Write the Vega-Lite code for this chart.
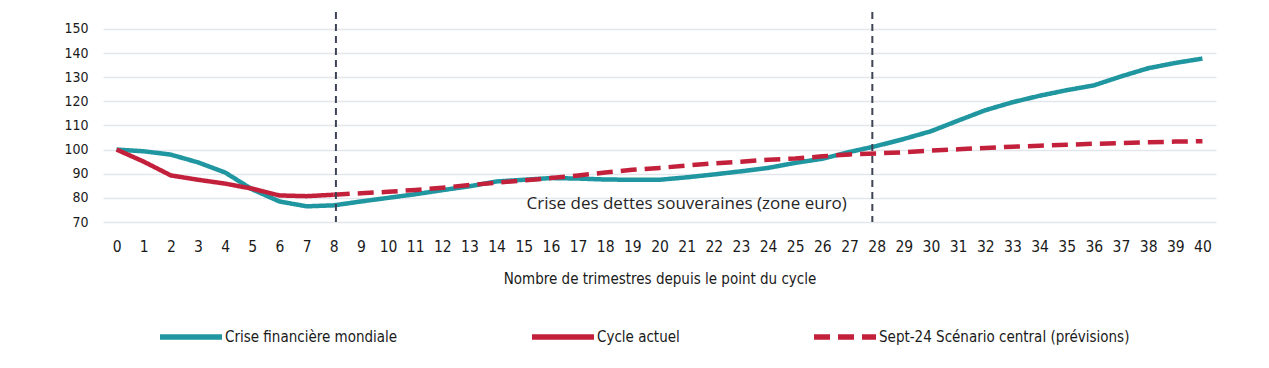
{
  "$schema": "https://vega.github.io/schema/vega-lite/v6.json",
  "width": 1113,
  "height": 210,
  "autosize": "none",
  "padding": {"left": 103, "top": 12, "right": 53, "bottom": 146},
  "background": "white",
  "datasets": {
    "series": [
      {"t": 0, "v": 100, "s": "Crise financière mondiale"},
      {"t": 1, "v": 99.3, "s": "Crise financière mondiale"},
      {"t": 2, "v": 97.9, "s": "Crise financière mondiale"},
      {"t": 3, "v": 94.7, "s": "Crise financière mondiale"},
      {"t": 4, "v": 90.5, "s": "Crise financière mondiale"},
      {"t": 5, "v": 83.5, "s": "Crise financière mondiale"},
      {"t": 6, "v": 78.5, "s": "Crise financière mondiale"},
      {"t": 7, "v": 76.5, "s": "Crise financière mondiale"},
      {"t": 8, "v": 76.9, "s": "Crise financière mondiale"},
      {"t": 9, "v": 78.5, "s": "Crise financière mondiale"},
      {"t": 10, "v": 80.0, "s": "Crise financière mondiale"},
      {"t": 11, "v": 81.5, "s": "Crise financière mondiale"},
      {"t": 12, "v": 83.2, "s": "Crise financière mondiale"},
      {"t": 13, "v": 84.8, "s": "Crise financière mondiale"},
      {"t": 14, "v": 86.8, "s": "Crise financière mondiale"},
      {"t": 15, "v": 87.5, "s": "Crise financière mondiale"},
      {"t": 16, "v": 88.2, "s": "Crise financière mondiale"},
      {"t": 17, "v": 88.0, "s": "Crise financière mondiale"},
      {"t": 18, "v": 87.6, "s": "Crise financière mondiale"},
      {"t": 19, "v": 87.5, "s": "Crise financière mondiale"},
      {"t": 20, "v": 87.5, "s": "Crise financière mondiale"},
      {"t": 21, "v": 88.5, "s": "Crise financière mondiale"},
      {"t": 22, "v": 89.7, "s": "Crise financière mondiale"},
      {"t": 23, "v": 91.0, "s": "Crise financière mondiale"},
      {"t": 24, "v": 92.4, "s": "Crise financière mondiale"},
      {"t": 25, "v": 94.5, "s": "Crise financière mondiale"},
      {"t": 26, "v": 96.2, "s": "Crise financière mondiale"},
      {"t": 27, "v": 99.0, "s": "Crise financière mondiale"},
      {"t": 28, "v": 101.5, "s": "Crise financière mondiale"},
      {"t": 29, "v": 104.4, "s": "Crise financière mondiale"},
      {"t": 30, "v": 107.6, "s": "Crise financière mondiale"},
      {"t": 31, "v": 112.0, "s": "Crise financière mondiale"},
      {"t": 32, "v": 116.3, "s": "Crise financière mondiale"},
      {"t": 33, "v": 119.6, "s": "Crise financière mondiale"},
      {"t": 34, "v": 122.3, "s": "Crise financière mondiale"},
      {"t": 35, "v": 124.6, "s": "Crise financière mondiale"},
      {"t": 36, "v": 126.6, "s": "Crise financière mondiale"},
      {"t": 37, "v": 130.3, "s": "Crise financière mondiale"},
      {"t": 38, "v": 133.7, "s": "Crise financière mondiale"},
      {"t": 39, "v": 135.9, "s": "Crise financière mondiale"},
      {"t": 40, "v": 137.7, "s": "Crise financière mondiale"},
      {"t": 0, "v": 100, "s": "Cycle actuel"},
      {"t": 1, "v": 95.0, "s": "Cycle actuel"},
      {"t": 2, "v": 89.3, "s": "Cycle actuel"},
      {"t": 3, "v": 87.5, "s": "Cycle actuel"},
      {"t": 4, "v": 85.9, "s": "Cycle actuel"},
      {"t": 5, "v": 83.8, "s": "Cycle actuel"},
      {"t": 6, "v": 81.0, "s": "Cycle actuel"},
      {"t": 7, "v": 80.7, "s": "Cycle actuel"},
      {"t": 8, "v": 81.3, "s": "Cycle actuel"},
      {"t": 8, "v": 81.3, "s": "Sept-24 Scénario central (prévisions)"},
      {"t": 9, "v": 81.9, "s": "Sept-24 Scénario central (prévisions)"},
      {"t": 10, "v": 82.5, "s": "Sept-24 Scénario central (prévisions)"},
      {"t": 11, "v": 83.3, "s": "Sept-24 Scénario central (prévisions)"},
      {"t": 12, "v": 84.2, "s": "Sept-24 Scénario central (prévisions)"},
      {"t": 13, "v": 85.3, "s": "Sept-24 Scénario central (prévisions)"},
      {"t": 14, "v": 86.3, "s": "Sept-24 Scénario central (prévisions)"},
      {"t": 15, "v": 87.2, "s": "Sept-24 Scénario central (prévisions)"},
      {"t": 16, "v": 88.2, "s": "Sept-24 Scénario central (prévisions)"},
      {"t": 17, "v": 89.3, "s": "Sept-24 Scénario central (prévisions)"},
      {"t": 18, "v": 90.5, "s": "Sept-24 Scénario central (prévisions)"},
      {"t": 19, "v": 91.6, "s": "Sept-24 Scénario central (prévisions)"},
      {"t": 20, "v": 92.4, "s": "Sept-24 Scénario central (prévisions)"},
      {"t": 21, "v": 93.4, "s": "Sept-24 Scénario central (prévisions)"},
      {"t": 22, "v": 94.3, "s": "Sept-24 Scénario central (prévisions)"},
      {"t": 23, "v": 95.0, "s": "Sept-24 Scénario central (prévisions)"},
      {"t": 24, "v": 95.8, "s": "Sept-24 Scénario central (prévisions)"},
      {"t": 25, "v": 96.3, "s": "Sept-24 Scénario central (prévisions)"},
      {"t": 26, "v": 97.2, "s": "Sept-24 Scénario central (prévisions)"},
      {"t": 27, "v": 98.0, "s": "Sept-24 Scénario central (prévisions)"},
      {"t": 28, "v": 98.4, "s": "Sept-24 Scénario central (prévisions)"},
      {"t": 29, "v": 98.9, "s": "Sept-24 Scénario central (prévisions)"},
      {"t": 30, "v": 99.6, "s": "Sept-24 Scénario central (prévisions)"},
      {"t": 31, "v": 100.1, "s": "Sept-24 Scénario central (prévisions)"},
      {"t": 32, "v": 100.7, "s": "Sept-24 Scénario central (prévisions)"},
      {"t": 33, "v": 101.2, "s": "Sept-24 Scénario central (prévisions)"},
      {"t": 34, "v": 101.6, "s": "Sept-24 Scénario central (prévisions)"},
      {"t": 35, "v": 102.0, "s": "Sept-24 Scénario central (prévisions)"},
      {"t": 36, "v": 102.4, "s": "Sept-24 Scénario central (prévisions)"},
      {"t": 37, "v": 102.7, "s": "Sept-24 Scénario central (prévisions)"},
      {"t": 38, "v": 103.0, "s": "Sept-24 Scénario central (prévisions)"},
      {"t": 39, "v": 103.3, "s": "Sept-24 Scénario central (prévisions)"},
      {"t": 40, "v": 103.5, "s": "Sept-24 Scénario central (prévisions)"}
    ],
    "markers": [{"x": 8.08}, {"x": 27.84}],
    "notes": [{"x": 21, "y": 77.6, "label": "Crise des dettes souveraines (zone euro)"}]
  },
  "layer": [
    {
      "data": {"name": "series"},
      "transform": [{"filter": "datum.s === 'Crise financière mondiale'"}],
      "mark": {"type": "line", "strokeWidth": 4.5, "strokeJoin": "round"},
      "encoding": {
        "x": {"field": "t", "type": "quantitative", "scale": {"domain": [-0.5, 40.5], "nice": false, "zero": false},
              "axis": {"values": [0,1,2,3,4,5,6,7,8,9,10,11,12,13,14,15,16,17,18,19,20,21,22,23,24,25,26,27,28,29,30,31,32,33,34,35,36,37,38,39,40], "tickCount": 100, "format": "d", "labelOverlap": false, "labelFlush": false, "title": "Nombre de trimestres depuis le point du cycle"}},
        "y": {"field": "v", "type": "quantitative", "scale": {"domain": [70, 157], "nice": false, "zero": false},
              "axis": {"values": [70,80,90,100,110,120,130,140,150], "tickCount": 50, "format": "d", "labelOverlap": false, "labelFlush": false, "title": null}},
        "color": {"field": "s", "type": "nominal", "scale": {"domain": ["Crise financière mondiale", "Cycle actuel", "Sept-24 Scénario central (prévisions)"], "range": ["#1f96a0", "#c3203c", "#c3203c"]}},
        "strokeDash": {"field": "s", "type": "nominal", "scale": {"domain": ["Crise financière mondiale", "Cycle actuel", "Sept-24 Scénario central (prévisions)"], "range": [[1, 0], [1, 0], [16, 8]]}}
      }
    },
    {
      "data": {"name": "series"},
      "transform": [{"filter": "datum.s !== 'Crise financière mondiale'"}],
      "mark": {"type": "line", "strokeWidth": 4.5, "strokeJoin": "round"},
      "encoding": {
        "x": {"field": "t", "type": "quantitative"},
        "y": {"field": "v", "type": "quantitative"},
        "color": {"field": "s", "type": "nominal", "scale": {"domain": ["Crise financière mondiale", "Cycle actuel", "Sept-24 Scénario central (prévisions)"], "range": ["#1f96a0", "#c3203c", "#c3203c"]}},
        "strokeDash": {"field": "s", "type": "nominal", "scale": {"domain": ["Crise financière mondiale", "Cycle actuel", "Sept-24 Scénario central (prévisions)"], "range": [[1, 0], [1, 0], [16, 8]]}}
      }
    },
    {
      "data": {"name": "markers"},
      "mark": {"type": "rule", "color": "#3d4455", "strokeWidth": 2, "strokeDash": [7, 5]},
      "encoding": {"x": {"field": "x", "type": "quantitative"}}
    },
    {
      "data": {"name": "notes"},
      "mark": {"type": "text", "font": "Open Sans", "fontSize": 17, "color": "#262626", "align": "center", "baseline": "middle"},
      "encoding": {
        "x": {"field": "x", "type": "quantitative"},
        "y": {"field": "y", "type": "quantitative"},
        "text": {"field": "label"}
      }
    }
  ],
  "config": {
    "view": {"stroke": null},
    "axisY": {"domain": false, "ticks": false, "grid": true, "gridColor": "#e3e7ec", "gridWidth": 1.5, "labelFont": "DejaVu Sans Condensed, Roboto", "labelFontSize": 14, "labelColor": "#1a1a1a", "labelPadding": 15},
    "axisX": {"domain": false, "ticks": false, "grid": false, "labelFont": "DejaVu Sans Condensed, Roboto", "labelFontSize": 15.5, "labelColor": "#1a1a1a", "labelPadding": 17, "labelAngle": 0, "titleFont": "DejaVu Sans Condensed, Roboto", "titleFontSize": 15, "titleFontWeight": "normal", "titleColor": "#1a1a1a", "titlePadding": 17},
    "legend": {"orient": "none", "legendX": 54, "legendY": 291, "direction": "horizontal", "columns": 3, "columnPadding": 123, "symbolType": "stroke", "symbolSize": 3844, "symbolStrokeWidth": 5.5, "labelFont": "DejaVu Sans Condensed, Roboto", "labelFontSize": 15, "labelColor": "#1a1a1a", "labelOffset": 0, "labelLimit": 400, "title": null}
  }
}
